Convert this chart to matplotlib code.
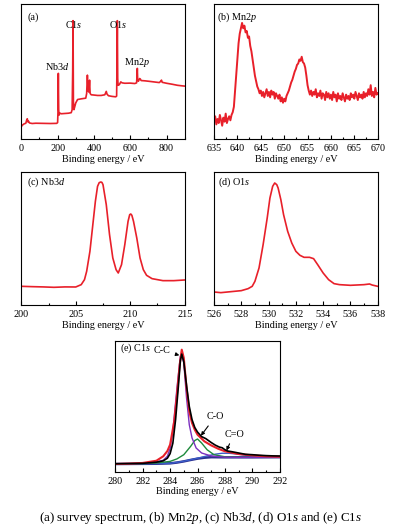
import numpy as np
import matplotlib
matplotlib.use("Agg")
import matplotlib.pyplot as plt
from matplotlib.ticker import MultipleLocator

plt.rcParams['font.family'] = ['Liberation Serif', 'DejaVu Serif']
plt.rcParams['mathtext.fontset'] = 'custom'
plt.rcParams['mathtext.rm'] = 'Liberation Serif'
plt.rcParams['mathtext.it'] = 'Liberation Serif:italic'

RED = '#e8202a'

# ---------------- data (intensity in % of axis height) ----------------
# (a) survey spectrum
survey_e = [0, 5, 15, 25, 30, 33, 36, 40, 45, 60, 80, 120, 160, 195, 200, 202, 204, 206,
            208, 212, 220, 240, 260, 275, 280, 283, 285, 287, 290, 294, 300, 310, 330,
            355, 360, 364, 368, 372, 376, 379, 385, 400, 420, 440, 460, 468, 472, 480,
            500, 520, 525, 527, 529, 531, 533, 540, 548, 555, 570, 600, 625, 635, 637,
            639, 641, 645, 652, 656, 660, 680, 700, 730, 760, 768, 772, 776, 800, 830,
            860, 885, 900]
survey_i = [9.4, 10.5, 11.5, 12.0, 14.5, 15.3, 13.0, 13.5, 12.2, 11.8, 12.0, 11.9, 11.8,
            11.9, 12.5, 20, 48.8, 22, 18, 19.5, 19.0, 19.2, 19.4, 19.8, 22, 50, 87.7, 28,
            22, 24, 27, 29.5, 30, 30.5, 34, 47.5, 36, 35, 43.8, 34, 33, 32.8, 32.5, 32.5,
            33, 35.5, 33.5, 32.3, 31.8, 31.5, 32, 55, 87.7, 45, 40, 40.5, 42.5, 41.8, 41.5,
            41.6, 41.3, 41.8, 46, 52.5, 44, 43, 45, 44.5, 43.5, 43.3, 43, 42.5, 42.0, 43,
            43.8, 42.2, 41.5, 40.8, 40.0, 39.6, 39.4]

# (b) Mn2p, 0.25 eV steps from 635 to 670
mn_e = np.arange(635, 670.01, 0.25)
mn_i = [13, 17, 11, 15, 12, 18, 14, 10, 16, 13, 19, 12, 15, 17, 14, 18,
        20, 24, 36, 48, 61, 71, 78, 82, 86, 82, 84, 79, 80, 75, 76, 69,
        65, 59, 53, 47, 43, 39, 37, 34, 36, 32, 35, 31, 34, 37, 32, 35,
        31, 36, 33, 35, 30, 34, 32, 30, 33, 28, 31, 27, 30, 28, 32, 34,
        36, 39, 42, 44, 47, 50, 52, 55, 56, 59, 58, 61, 57, 56, 53, 47,
        40, 36, 33, 36, 32, 35, 33, 37, 31, 34, 32, 36, 30, 34, 33, 29,
        35, 31, 34, 30, 33, 29, 35, 31, 33, 28, 34, 30, 32, 29, 34, 31,
        28, 33, 30, 32, 29, 34, 31, 33, 30, 35, 32, 29, 34, 31, 33, 30,
        35, 31, 34, 32, 37, 33, 40, 32, 35, 31, 38, 33, 34]

# (c) Nb3d
nb_e = [200, 201, 202, 203, 204, 205, 205.5, 205.8, 206, 206.3, 206.6, 206.8, 207,
        207.15, 207.3, 207.4, 207.5, 207.8, 208.1, 208.4, 208.7, 208.9, 209.2, 209.5,
        209.8, 209.95, 210.05, 210.15, 210.3, 210.6, 210.9, 211.2, 211.5, 212, 213,
        214, 215]
nb_i = [14.25, 14.0, 13.8, 13.5, 13.8, 13.75, 15.5, 19.25, 25.5, 40.5, 63, 78, 89.25,
        92, 92.5, 92.2, 90.5, 75.5, 53, 35.5, 26.75, 24.25, 30.5, 45.5, 63, 68, 68.5,
        67.5, 63, 50.5, 35.5, 26.75, 22.5, 20, 18.5, 18.5, 19]

# (d) O1s
o_e = [526, 526.5, 527, 527.5, 528, 528.5, 528.8, 529, 529.3, 529.6, 529.9, 530.1,
       530.3, 530.45, 530.6, 530.7, 530.9, 531.1, 531.4, 531.7, 532, 532.3, 532.6, 533,
       533.3, 533.6, 534, 534.4, 534.8, 535.2, 536, 537, 537.4, 537.6, 538]
o_i = [10, 9.5, 10, 10.5, 11, 12.5, 14.25, 18, 28, 45.5, 65.5, 80.5, 89.25, 91.75, 90.5,
       88, 79.25, 68, 55.5, 46.75, 40.5, 37.5, 36, 36, 35, 30.5, 24.25, 19.25, 16.25,
       15.5, 15, 15.5, 16, 15.2, 14.25]

# (e) C1s: measured data, fitted envelope, components, background
c_raw_e = [280, 282, 283, 283.5, 283.8, 284, 284.2, 284.4, 284.6, 284.75, 284.85, 285,
           285.2, 285.4, 285.6, 285.8, 286, 286.3, 286.6, 287, 287.3, 287.6, 287.8, 288,
           288.2, 288.5, 289, 289.5, 290, 290.5, 291, 291.5, 292]
c_raw_i = [6.3, 6.6, 7.5, 8.5, 10.5, 14, 22, 40, 65, 85, 90, 84, 66, 50, 40, 34, 30.5,
           27, 25.5, 22.5, 20.5, 19, 18.5, 17, 16, 15.5, 14.5, 13.5, 13.2, 12.8, 12.5,
           12.3, 12.2]
c_fit_e = [280, 281, 282, 283, 283.5, 283.8, 284, 284.3, 284.5, 284.7, 284.85, 285,
           285.2, 285.4, 285.6, 285.8, 286, 286.5, 287, 287.5, 288, 289, 290, 291, 292]
c_fit_i = [6.1, 6.4, 6.9, 8.6, 12, 16, 20.9, 38.7, 59, 81.9, 93.4, 87, 64.1, 46.3, 37.4,
           32.3, 28.5, 23.4, 20.3, 17.8, 15.8, 13.7, 12.7, 12, 11.7]
cc_e = [280, 282, 283, 283.5, 283.8, 284, 284.2, 284.5, 284.75, 284.85, 285, 285.2,
        285.4, 285.6, 285.9, 286.3, 287, 288, 289, 290, 292]
cc_i = [6.1, 6.5, 7.6, 9, 12, 18, 31, 64.1, 88.3, 90.1, 83.2, 56.5, 36.1, 26, 18.3,
        14.5, 12.2, 11.3, 11.2, 11.2, 11.3]
co_e = [280, 282, 283, 284, 284.5, 285, 285.5, 285.8, 286, 286.3, 286.7, 287.2, 288,
        289, 290, 292]
co_i = [6.1, 6.3, 6.9, 8.1, 10, 13.2, 19.6, 24, 25.2, 22.1, 17, 13.2, 11.6, 11.3, 11.2,
        11.3]
cdo_e = [280, 284, 285, 286, 286.7, 287.3, 287.8, 288.3, 288.8, 289.5, 290.5, 292]
cdo_i = [6.1, 6.6, 8.2, 10.5, 12.3, 13.6, 14.3, 14.3, 13.8, 12.8, 11.8, 11.4]
bg_e = [280, 283, 284, 284.5, 285, 285.5, 286, 286.5, 287, 288, 290, 292]
bg_i = [6.1, 6.3, 6.6, 7.2, 8.1, 9.2, 10.2, 10.9, 11.3, 11.2, 11.2, 11.3]

# ---------------- figure ----------------
fig = plt.figure(figsize=(3.98, 5.32), dpi=100)
fig.patch.set_facecolor('white')


def style(ax, xlim, major, minor):
    ax.set_xlim(*xlim)
    ax.set_ylim(0, 100)
    ax.xaxis.set_major_locator(MultipleLocator(major))
    ax.xaxis.set_minor_locator(MultipleLocator(minor))
    ax.tick_params(axis='x', which='both', direction='in', labelsize=7.3, pad=3.5,
                   width=0.8, top=False)
    ax.tick_params(axis='x', which='major', length=3)
    ax.tick_params(axis='x', which='minor', length=1.8)
    ax.tick_params(axis='y', which='both', left=False, right=False, labelleft=False)
    for s in ax.spines.values():
        s.set_linewidth(0.8)
    ax.set_xlabel("Binding energy / eV", fontsize=7.3, labelpad=1)


# (a)
ax = fig.add_axes([0.0535, 0.7378, 0.4106, 0.2547])
ax.plot(survey_e, survey_i, color=RED, lw=1.2)
style(ax, (0, 900), 200, 100)
ax.text(0.04, 0.905, "(a)", transform=ax.transAxes, fontsize=7.3, va='center')
ax.text(199, 54.2, r"Nb3$d$", fontsize=7.3, ha='center', va='center')
ax.text(287, 85.2, r"C1$s$", fontsize=7.3, ha='center', va='center')
ax.text(532, 85.2, r"O1$s$", fontsize=7.3, ha='center', va='center')
ax.text(637, 56.5, r"Mn2$p$", fontsize=7.3, ha='center', va='center')

# (b)
ax = fig.add_axes([0.5377, 0.7382, 0.4113, 0.2543])
ax.plot(mn_e, mn_i, color=RED, lw=1.4)
style(ax, (635, 670), 5, 2.5)
ax.text(0.02, 0.905, r"(b) Mn2$p$", transform=ax.transAxes, fontsize=7.3, va='center')

# (c)
ax = fig.add_axes([0.0535, 0.4261, 0.4106, 0.2506])
ax.plot(nb_e, nb_i, color=RED, lw=1.2)
style(ax, (200, 215), 5, 2.5)
ax.text(0.033, 0.92, r"(c) Nb3$d$", transform=ax.transAxes, fontsize=7.3, va='center')

# (d)
ax = fig.add_axes([0.5377, 0.4261, 0.4113, 0.2506])
ax.plot(o_e, o_i, color=RED, lw=1.2)
style(ax, (526, 538), 2, 1)
ax.text(0.023, 0.92, r"(d) O1$s$", transform=ax.transAxes, fontsize=7.3, va='center')

# (e)
ax = fig.add_axes([0.2897, 0.1128, 0.4131, 0.2462])
ax.plot(bg_e, bg_i, color='#2b2f8f', lw=1.8)
ax.plot(cdo_e, cdo_i, color='#3a5cc8', lw=1.0)
ax.plot(co_e, co_i, color='#1e8a3c', lw=1.0)
ax.plot(cc_e, cc_i, color='#7b2fbf', lw=1.0)
ax.plot(c_fit_e, c_fit_i, color=RED, lw=1.5)
ax.plot(c_raw_e, c_raw_i, color='black', lw=1.2)
style(ax, (280, 292), 2, 1)
ax.text(0.029, 0.947, r"(e) C1$s$", transform=ax.transAxes, fontsize=7.3, va='center')
arrow = dict(arrowstyle='-|>', color='black', lw=0.8, mutation_scale=5)
ax.annotate("C-C", xy=(284.87, 88.5), xytext=(283.4, 93), fontsize=7.3,
            ha='center', va='center', arrowprops=arrow)
ax.annotate("C-O", xy=(286.13, 26), xytext=(287.3, 42.4), fontsize=7.3,
            ha='center', va='center', arrowprops=arrow)
ax.annotate("C=O", xy=(288.03, 14.5), xytext=(288.67, 29), fontsize=7.3,
            ha='center', va='center', arrowprops=arrow)

fig.text(0.5025, 0.0263,
         r"(a) survey spectrum, (b) Mn2$p$, (c) Nb3$d$, (d) O1$s$ and (e) C1$s$",
         fontsize=9.4, ha='center', va='center')

fig.savefig("out.png", dpi=100)
